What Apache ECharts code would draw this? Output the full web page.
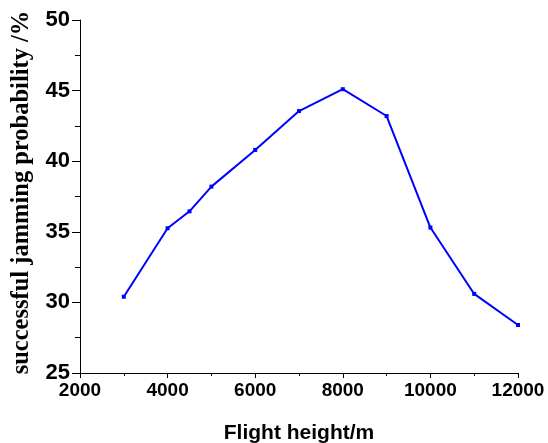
<!DOCTYPE html>
<html>
<head>
<meta charset="utf-8">
<script src="https://cdn.jsdelivr.net/npm/echarts@6/dist/echarts.min.js"></script>
<style>html,body{margin:0;padding:0;background:#fff}#c{width:548px;height:443px}</style>
</head>
<body>
<div id="c"></div>
<script>
const heights = [3000, 4000, 4500, 5000, 6000, 7000, 8000, 9000, 10000, 11000, 12000];
const probability = [30.4, 35.25, 36.45, 38.2, 40.8, 43.55, 45.1, 43.2, 35.3, 30.6, 28.4];
const xTitle = 'Flight height/m';
const yTitle = 'successful jamming probability /%';

const chart = echarts.init(document.getElementById('c'));
chart.setOption({
  animation: false,
  grid: { left: 80, right: 30, top: 20, bottom: 70, containLabel: false, outerBoundsMode: 'none' },
  xAxis: {
    type: 'value', min: 2000, max: 12000, interval: 2000,
    name: xTitle, nameLocation: 'middle', nameGap: 50,
    nameTextStyle: { fontFamily: 'Liberation Sans', fontWeight: 'bold', fontSize: 21, color: '#000' },
    axisLine: { show: true, lineStyle: { color: '#000', width: 1 } },
    axisTick: { show: true, inside: false, length: 5, lineStyle: { color: '#000' } },
    minorTick: { show: true, splitNumber: 2, length: 3, lineStyle: { color: '#000' } },
    splitLine: { show: false },
    axisLabel: { fontFamily: 'Liberation Sans', fontWeight: 'bold', fontSize: 19, color: '#000', margin: 8,
      formatter: v => String(v) }
  },
  yAxis: {
    type: 'value', min: 25, max: 50, interval: 5,
    name: yTitle, nameLocation: 'middle', nameGap: 45, nameRotate: 90,
    nameTextStyle: { fontFamily: 'Liberation Serif', fontWeight: 'bold', fontSize: 24.5, color: '#000',
      padding: [0, 0, 0, 8] },
    axisLine: { show: true, lineStyle: { color: '#000', width: 1 } },
    axisTick: { show: true, inside: false, length: 8, lineStyle: { color: '#000' } },
    minorTick: { show: true, splitNumber: 2, length: 5, lineStyle: { color: '#000' } },
    splitLine: { show: false },
    axisLabel: { fontFamily: 'Liberation Sans', fontWeight: 'bold', fontSize: 22, color: '#000', margin: 10,
      formatter: v => String(v) }
  },
  series: [{
    type: 'line',
    data: heights.map((h, i) => [h, probability[i]]),
    symbol: 'emptyRect', symbolSize: 2,
    itemStyle: { color: '#0000ff', borderColor: '#0000ff', borderWidth: 1 },
    lineStyle: { color: '#0000ff', width: 2 }
  }]
});
</script>
</body>
</html>
